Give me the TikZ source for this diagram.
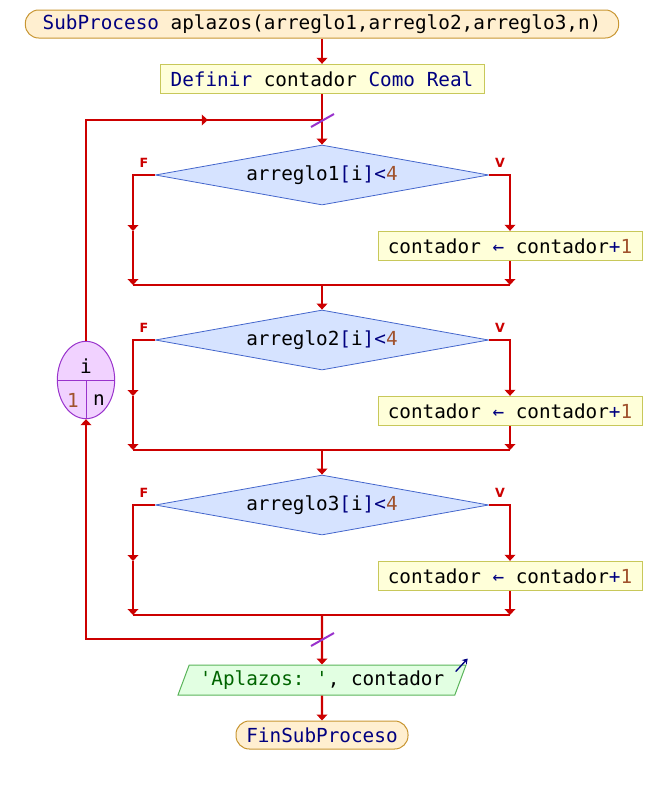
\documentclass[tikz,border=0pt]{standalone}
\usepackage{fontspec}
\setmonofont{DejaVu Sans Mono}
\setsansfont{DejaVu Sans}
\usetikzlibrary{positioning,calc,shapes.geometric,arrows.meta,decorations.markings}
\definecolor{flow}{HTML}{CC0000}
\definecolor{kw}{HTML}{000080}
\definecolor{num}{HTML}{A0522D}
\definecolor{str}{HTML}{006400}
\definecolor{termfill}{HTML}{FFEFD0}
\definecolor{termline}{HTML}{C89632}
\definecolor{boxfill}{HTML}{FFFFD9}
\definecolor{boxline}{HTML}{C8C85A}
\definecolor{ifill}{HTML}{D6E3FF}
\definecolor{iline}{HTML}{4466CC}
\definecolor{loopfill}{HTML}{F1D2FF}
\definecolor{loopline}{HTML}{9933CC}
\definecolor{outfill}{HTML}{E2FFE2}
\definecolor{outline}{HTML}{5AB45A}

\begin{document}
\begin{tikzpicture}[x=0.75pt,y=-0.75pt,font=\ttfamily\fontsize{14.5}{17}\selectfont,
  wire/.style={draw=flow,line width=1.7pt},
  tip/.style={-{Triangle[width=8pt,length=4.5pt]}},
  midtip/.style={postaction=decorate,decoration={markings,mark=at position #1 with {\arrow{Triangle[width=8pt,length=4.5pt]}}}},
  term/.style={draw=termline,fill=termfill,rounded corners=10pt,minimum height=21pt,line width=0.75pt},
  assign/.style={draw=boxline,fill=boxfill,minimum height=22pt,line width=0.75pt},
  cond/.style={diamond,draw=iline,fill=ifill,minimum width=250pt,minimum height=45pt,aspect=5.5,inner sep=0pt,line width=0.6pt},
  loopv/.style={ellipse,draw=loopline,fill=loopfill,minimum width=43pt,minimum height=58pt,inner sep=0pt,line width=0.75pt},
  outp/.style={trapezium,trapezium left angle=68,trapezium right angle=112,trapezium stretches body=true,draw=outline,fill=outfill,minimum width=216pt,minimum height=22.5pt,line width=0.75pt},
  tag/.style={text=flow,font=\sffamily\bfseries\fontsize{9.5}{10}\selectfont},
  cut/.style={draw=loopline,line width=1.5pt}]
  \useasboundingbox (0,0) rectangle (652,785);
  % ---- header ----
  \node[term,minimum width=445pt] (ini) at (322,24) {\textcolor{kw}{SubProceso} aplazos(arreglo1,arreglo2,arreglo3,n)};
  \node[assign,minimum width=243pt] (def) at (322,79) {\textcolor{kw}{Definir} contador \textcolor{kw}{Como Real}};
  \draw[wire,tip] (ini) -- (def);
  \coordinate (top) at (322,120);
  % ---- three ifs ----
  \foreach \k/\y in {1/175,2/340,3/505}{
    \node[cond] (d\k) at (322,\y) {arreglo\k\textcolor{kw}{[}i\textcolor{kw}{]<}\textcolor{num}{4}};
    \node[assign,minimum width=198pt] (a\k) at (510,\y+71) {contador \textcolor{kw}{←} contador\textcolor{kw}{+}\textcolor{num}{1}};
    \coordinate (fl\k) at (133,\y+56);
    \coordinate (ml\k) at (133,\y+110);
    \coordinate (mr\k) at (510,\y+110);
    \coordinate (m\k) at (322,\y+110);
    \node[tag] at (144,\y-12) {F};
    \node[tag] at (500,\y-12) {V};
    \draw[wire,tip] (d\k.west) -| (fl\k);
    \draw[wire,tip] (fl\k) -- (ml\k);
    \draw[wire,tip] (d\k.east) -| (a\k.north);
    \draw[wire,tip] (a\k.south) -- (mr\k);
    \draw[wire] (ml\k) -- (mr\k);}
  \draw[wire,tip] (def) -- (d1);
  \draw[wire,tip] (m1) -- (d2);
  \draw[wire,tip] (m2) -- (d3);
  % ---- loop i = 1..n ----
  \node[loopv] (lp) at (86,380) {};
  \draw[draw=loopline,line width=0.75pt] (lp.west) -- (lp.east);
  \draw[draw=loopline,line width=0.75pt] (lp.center) -- (lp.south);
  \node (lpi) at (86,366) {i};
  \node (lpa) at (73,400) {\textcolor{num}{1}};
  \node (lpb) at (99,400) {n};
  \coordinate (back) at (322,639);
  \draw[wire,midtip=0.75] (lp.north) |- (top);
  \draw[wire,tip] (back) -| (lp.south);
  % ---- output and end ----
  \node[outp] (out) at (322,680) {\textcolor{str}{'Aplazos: '}, contador};
  \draw[wire,tip] (m3) -- (out);
  \draw[kw,line width=1pt,-{Stealth[width=5pt,length=4pt]}] ($(out.top right corner)+(-11,7)$) -- ++(12,-13);
  \node[term,minimum width=129pt] (fin) at (322,735) {\textcolor{kw}{FinSubProceso}};
  \draw[wire,tip] (out) -- (fin);
  % ---- loop cuts ----
  \draw[cut] ($(top)+(-11,7)$) -- ($(top)+(12,-6)$);
  \draw[cut] ($(back)+(-11,7)$) -- ($(back)+(12,-6)$);
\end{tikzpicture}
\end{document}
